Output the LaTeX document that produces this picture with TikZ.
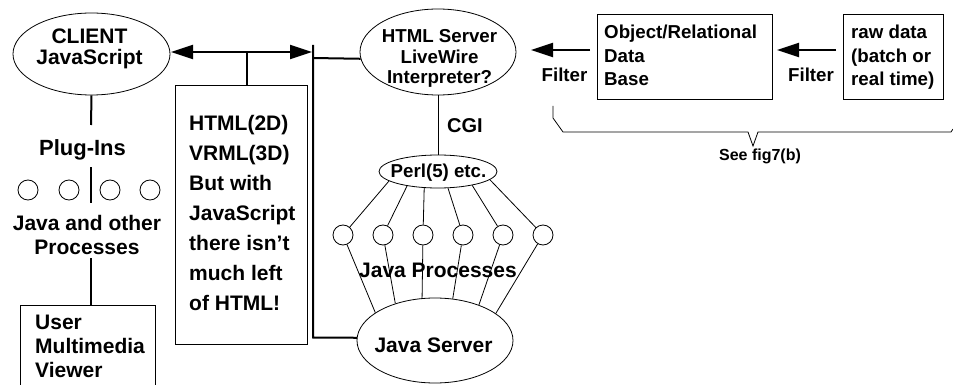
\documentclass[tikz,border=0pt]{standalone}
\usepackage{fontspec}
\setmainfont{Liberation Sans}
\usetikzlibrary{shapes.geometric,arrows.meta}
\begin{document}
\begin{tikzpicture}[x=1pt,y=-1pt,
  thinl/.style={line width=0.8pt},
  thickl/.style={line width=2pt},
  ell/.style={draw,ellipse,line width=0.8pt,inner sep=0pt},
  proc/.style={draw,circle,line width=0.8pt,minimum size=20pt,inner sep=0pt},
  boxr/.style={draw,line width=1.2pt},
  big/.style={font=\bfseries\fontsize{21}{24}\selectfont,inner sep=0pt},
  mid/.style={font=\bfseries\fontsize{18.7}{20.5}\selectfont,inner sep=0pt},
  small/.style={font=\bfseries\fontsize{16}{19}\selectfont,inner sep=0pt},
  arr/.style={thickl,-{Triangle[length=22pt,width=14pt]}},
  darr/.style={thickl,{Triangle[length=22pt,width=14pt]}-{Triangle[length=22pt,width=14pt]}}
]
\useasboundingbox (0,0) rectangle (953,385);
\clip (0,0) rectangle (953,385);

% ---- client side ----
\node[ell,minimum width=157pt,minimum height=82pt] (client) at (91.5,54) {};
\node[big,align=center,anchor=base] (clienttxt) at (89.5,64.5) {CLIENT\\[-3pt]JavaScript};

\coordinate (aL) at (171,52);
\coordinate (aR) at (312,52);
\draw[darr] (aL) -- (aR);
\coordinate (aM) at (247,52);

\node[boxr,minimum width=132pt,minimum height=259pt,anchor=north west] (htmlbox) at (175,85) {};
\draw[thickl] (aM) -- (aM |- htmlbox.north);
\node[big,align=left,anchor=base west,font=\bfseries\fontsize{21}{30}\selectfont] (htmltxt) at (189,310.5)
  {HTML(2D)\\VRML(3D)\\But with\\JavaScript\\there isn't\\much left\\of HTML!};

\coordinate (c1a) at (91,125);
\draw[thickl] (client.south) -- (c1a);
\node[big,font=\bfseries\fontsize{22}{24}\selectfont,anchor=base] (plugins) at (82.5,155.5) {Plug-Ins};
\coordinate (c2a) at (91,167);
\coordinate (c2b) at (91,203);
\draw[thickl] (c2a) -- (c2b);
\node[proc] (pa) at (28,190) {};
\node[proc] (pb) at (69,190) {};
\node[proc] (pc) at (110,190) {};
\node[proc] (pd) at (150,190) {};
\node[big,align=center,anchor=base] (javaother) at (87,254.5) {Java and other\\Processes};
\coordinate (c3a) at (91,258);
\node[boxr,minimum width=135pt,minimum height=100pt,anchor=north west] (userbox) at (20,305) {};
\draw[thickl] (c3a) -- (c3a |- userbox.north);
\node[big,align=left,anchor=base west,font=\bfseries\fontsize{21}{24}\selectfont] (usertxt) at (35,377.5)
  {User\\Multimedia\\Viewer};

% ---- servers ----
\node[ell,minimum width=156pt,minimum height=86pt] (html) at (438,52) {};
\node[mid,align=center,anchor=base] (htmltxt2) at (439.5,83.7) {HTML Server\\LiveWire\\Interpreter?};

\coordinate (busTop) at (313,45);
\coordinate (busBot) at (313,337.5);
\coordinate (busH) at (313,58);
\node[ell,minimum width=156pt,minimum height=85pt] (js) at (435,340.5) {};
\node[big,anchor=base] (jstxt) at (433.5,352.5) {Java Server};
\draw[thickl] (busTop) -- (busBot) -- (js.178);
\draw[thickl] (busH) -- (html.185);

\node[ell,minimum width=118pt,minimum height=33pt] (perl) at (438,171.5) {};
\node[mid,anchor=base] (perltxt) at (438.5,178) {Perl(5) etc.};
\draw[thinl] (html.south) -- (perl.north);
\node[big,font=\bfseries\fontsize{20}{24}\selectfont,anchor=base] (cgi) at (465,133) {CGI};

\foreach \i/\x/\pa/\ja in {1/343/191/155.7, 2/383/205/137.6, 3/423/230/107, 4/463/301/67, 5/503/338/39.7, 6/543/351/24.7}{
  \node[proc] (jp\i) at (\x,235) {};
  \draw[thinl] (perl.\pa) -- (jp\i);
  \draw[thinl] (jp\i) -- (js.\ja);
}
\node[big,anchor=base] (jproc) at (438,277.5) {Java Processes};

% ---- data side ----
\node[boxr,minimum width=175pt,minimum height=85pt,anchor=north west] (objbox) at (597,14) {};
\node[mid,align=left,anchor=base west,font=\bfseries\fontsize{18.7}{23.5}\selectfont] (objtxt) at (604,85.6)
  {Object/Relational\\Data\\Base};
\node[boxr,minimum width=100pt,minimum height=85pt,anchor=north west] (rawbox) at (843,14) {};
\node[mid,align=left,anchor=base west,font=\bfseries\fontsize{18.7}{23.5}\selectfont] (rawtxt) at (851,85.6)
  {raw data\\(batch or\\real time)};

\coordinate (f1s) at (590,50);
\coordinate (f1e) at (531,50);
\draw[arr] (f1s) -- (f1e);
\node[mid,anchor=base] (filter1) at (564.5,81.6) {Filter};
\coordinate (f2s) at (836,50);
\coordinate (f2e) at (777,50);
\draw[arr] (f2s) -- (f2e);
\node[mid,anchor=base] (filter2) at (811,81.6) {Filter};

\draw[thinl] (553,106) -- (553,118) -- (563,132) -- (748,132) -- (753,146) -- (758,132) -- (951,132) -- (953,129);
\node[small,anchor=base] (seefig) at (760,160.5) {See fig7(b)};
\end{tikzpicture}
\end{document}
